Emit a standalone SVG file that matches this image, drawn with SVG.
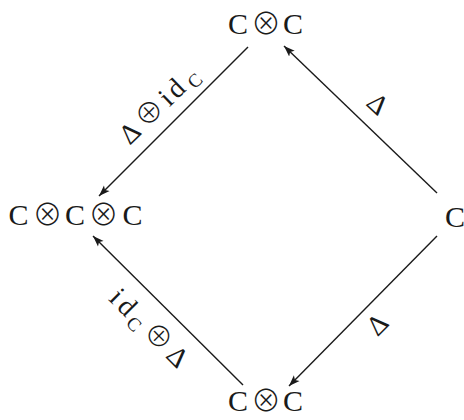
<svg xmlns="http://www.w3.org/2000/svg" width="464" height="420" viewBox="0 0 464 420">
<style>
.n{font-family:"Liberation Serif","DejaVu Serif",serif;font-size:30px;fill:#1a1a1a;text-anchor:middle}
.l{font-family:"Liberation Serif","DejaVu Serif",serif;font-size:28px;fill:#1a1a1a;text-anchor:middle}
.s{font-size:19px}
.o{font-family:"Noto Sans CJK JP","DejaVu Sans",sans-serif;font-weight:300}
.e{stroke:#1a1a1a;stroke-width:1.4;fill:none;marker-end:url(#ah)}
</style>
<defs>
<marker id="ah" markerUnits="userSpaceOnUse" markerWidth="12" markerHeight="9" refX="11" refY="4" orient="auto" viewBox="0 0 12 8">
<path d="M0,0 L11,4 L0,8 L2.5,4 z" fill="#1a1a1a"/>
</marker>
</defs>
<rect width="464" height="420" fill="#fff"/>
<g id="edges">
<line class="e" x1="248" y1="47" x2="99" y2="196"/>
<line class="e" x1="243" y1="385" x2="93" y2="236"/>
<line class="e" x1="437" y1="193" x2="284" y2="46"/>
<line class="e" x1="437" y1="236" x2="289" y2="386"/>
<text class="l" transform="translate(160,108) rotate(-44)" y="6"><tspan x="-39">Δ</tspan><tspan class="o" x="-11">⊕</tspan><tspan x="11 25">id</tspan><tspan class="s" x="44" y="11">C</tspan></text>
<text class="l" transform="translate(150,325) rotate(45)" y="12"><tspan x="-44 -29">id</tspan><tspan class="s" x="-12" y="17">C</tspan><tspan class="o" x="14" y="12">⊕</tspan><tspan x="42" y="12">Δ</tspan></text>
<text class="l" transform="translate(375.6,106.3) rotate(43)" x="0" y="6">Δ</text>
<text class="l" transform="translate(379.7,326.6) rotate(-45)" x="0" y="6">Δ</text>
</g>
<g id="n_top"><text class="n" y="34"><tspan x="238">C</tspan><tspan class="o" x="266">⊗</tspan><tspan x="293">C</tspan></text></g>
<g id="n_left"><text class="n" y="225"><tspan x="18.5">C</tspan><tspan class="o" x="47.5">⊗</tspan><tspan x="75">C</tspan><tspan class="o" x="103.5">⊗</tspan><tspan x="132.5">C</tspan></text></g>
<g id="n_right"><text class="n" x="455" y="227">C</text></g>
<g id="n_bottom"><text class="n" y="411"><tspan x="238">C</tspan><tspan class="o" x="266">⊗</tspan><tspan x="293">C</tspan></text></g>
</svg>
